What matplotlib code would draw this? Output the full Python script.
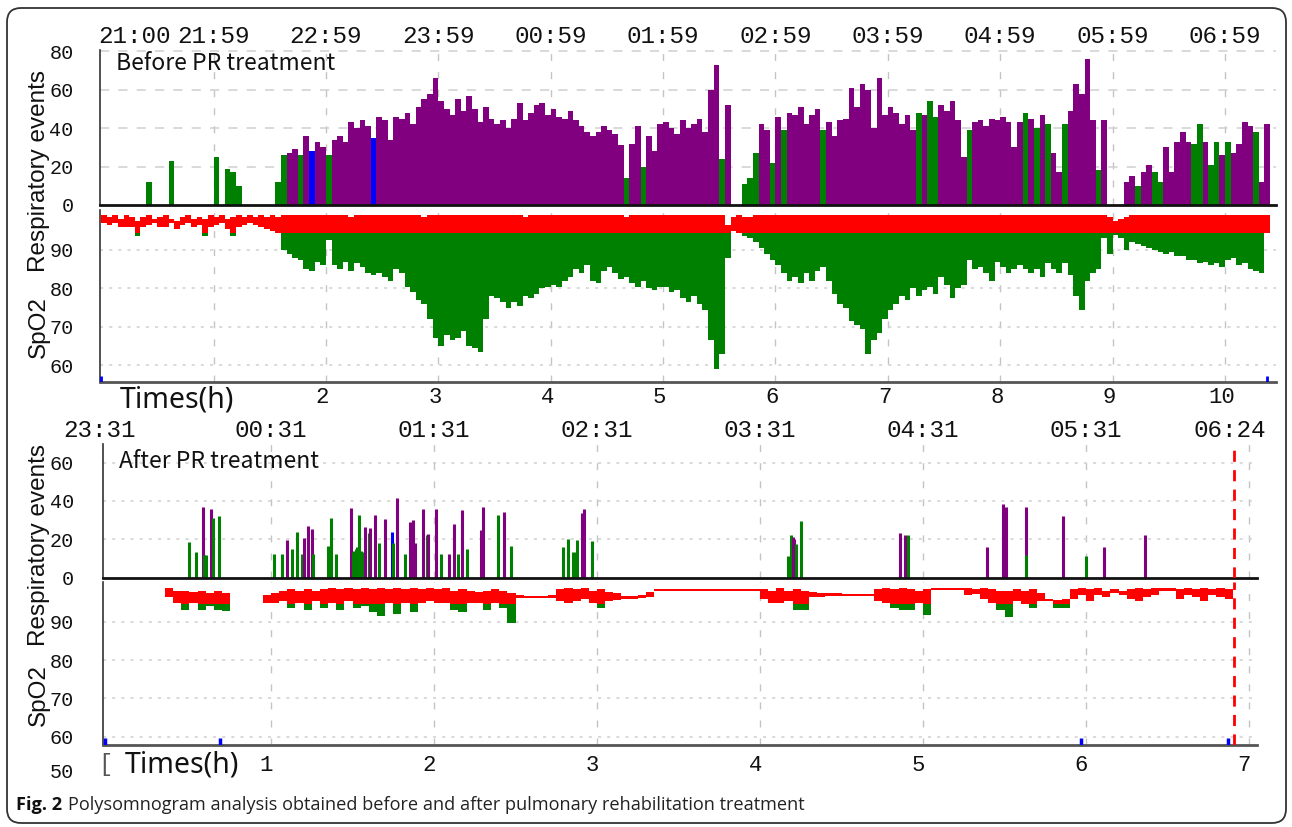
import numpy as np
import matplotlib
matplotlib.use("Agg")
import matplotlib.pyplot as plt
from matplotlib.patches import FancyBboxPatch
from matplotlib.transforms import IdentityTransform

nan = np.nan
W, H = 1292, 827

# ---------------- before PR treatment (top) ----------------
bin_before = 0.05  # hours per bar

# respiratory events per bin
events_before = [
    0, 0, 0, 0, 0, 0, 0, 0, 12, 0,
    0, 0, 23, 0, 0, 0, 0, 0, 0, 0,
    25, 0, 19, 17, 10, 0, 0, 0, 0, 0,
    0, 12, 26, 27, 29, 26, 36, 28, 33, 30,
    26, 34, 36, 33, 43, 40, 44, 41, 35, 46,
    44, 34, 46, 45, 48, 42, 51, 55, 58, 66,
    54, 50, 47, 55, 49, 57, 50, 43, 51, 45,
    42, 44, 40, 45, 53, 44, 48, 52, 53, 47,
    50, 46, 45, 49, 44, 41, 38, 36, 38, 41,
    39, 37, 31, 14, 32, 41, 20, 36, 28, 42,
    43, 40, 37, 44, 40, 42, 45, 38, 60, 73,
    24, 52, 0, 0, 11, 14, 27, 42, 39, 22,
    46, 39, 48, 47, 51, 42, 47, 50, 39, 43,
    36, 44, 45, 61, 51, 63, 60, 40, 66, 47,
    51, 48, 42, 47, 39, 48, 47, 54, 46, 52,
    49, 54, 44, 25, 39, 43, 44, 41, 45, 44,
    46, 43, 30, 43, 48, 45, 40, 47, 42, 27,
    17, 42, 49, 63, 58, 76, 44, 18, 44, 0,
    0, 0, 12, 15, 10, 17, 21, 17, 12, 30,
    17, 33, 38, 33, 32, 42, 33, 21, 33, 26,
    33, 27, 32, 43, 41, 38, 12, 42,
]
# g = hypopnea (green), p = apnea (purple), b = blue, . = nothing
types_before = (
    "........g." "..g......." "g.ggg....." ".ggppgpbpp" "gpppppppbp"
    "pppppppppp" "pppppppppp" "pppppppppp" "pppppppppp" "pppgppgppp"
    "pppppppppp" "gp..gggppg" "pgppppppgp" "pppppppppp" "pppppgpggp"
    "ppppgppppp" "ppppgpgpgp" "pgpppppgp." "..ppgppggp" "ppppggpggp"
    "gppppgpp"
)
spo2_max_before = [
    99, 98.5, 99, 98, 99, 98.5, 97.5, 98.5, 99, 98,
    98.5, 99, 98, 97.5, 98.5, 99, 98, 98.5, 98, 99,
    98.5, 99, 98, 98.5, 99, 98.5, 99, 98.5, 99, 98.5,
    99, 98.5, 99, 99, 99, 99, 99, 99, 99, 99,
    99, 99, 99, 99, 98.5, 99, 99, 99, 99, 99,
    99, 99, 99, 99, 99, 99, 99, 98.5, 99, 99,
    99, 99, 99, 99, 99, 99, 99, 99, 99, 99,
    99, 99, 99, 99, 99, 98.5, 99, 99, 99, 99,
    99, 99, 99, 99, 99, 99, 99, 99, 99, 99,
    99, 99, 99, 98.5, 99, 99, 99, 99, 99, 99,
    99, 99, 99, 99, 99, 99, 99, 99, 99, 99,
    99, 96.5, 98.5, 99, 98.5, 98.5, 99, 99, 99, 99,
    99, 99, 99, 99, 99, 99, 99, 99, 99, 99,
    99, 99, 99, 99, 99, 99, 99, 99, 99, 99,
    99, 99, 99, 99, 99, 99, 99, 99, 99, 99,
    99, 99, 99, 99, 99, 99, 99, 99, 99, 99,
    99, 99, 99, 99, 99, 99, 99, 99, 99, 99,
    99, 99, 99, 99, 99, 99, 99, 99, 99, 98.5,
    97.5, 98, 98.5, 99, 99, 99, 99, 99, 99, 99,
    99, 99, 99, 99, 99, 99, 99, 99, 99, 99,
    99, 99, 99, 99, 99, 99, 99, 99,
]
spo2_min_before = [
    97, 96.5, 97, 96, 96, 96, 93.5, 96, 96.5, 97,
    96, 96, 97, 95.5, 96.5, 97, 96, 96.5, 93.5, 96,
    96.5, 97, 95.5, 93.5, 96, 96.5, 97, 96.5, 96, 95.5,
    95, 94.5, 90, 89, 88, 87.5, 85, 84.5, 87, 86,
    92.5, 86, 85, 87, 84.5, 86.5, 85.5, 84, 83.5, 84,
    83, 82, 85, 84, 80.5, 79, 77, 76, 72, 67,
    65, 68, 66.5, 67, 69, 65, 64.5, 63.5, 72, 78,
    77.5, 76.5, 75, 76.5, 75.5, 78, 77.5, 78.5, 80, 80.5,
    81, 80.5, 82, 83, 85, 84, 86, 82, 81.5, 84.5,
    85.5, 84, 82.5, 83, 81.5, 80.5, 82, 80, 79.5, 80.5,
    80.5, 79, 79.5, 77.5, 76.5, 78, 76, 74.5, 66.5, 59,
    63, 88, 95, 94.5, 93.5, 93, 92, 90.5, 89, 87.5,
    86, 84, 82, 83, 81.5, 84, 82, 84.5, 85.5, 82,
    78.5, 76, 75, 71.5, 70.5, 69.5, 63, 66.5, 68.5, 72,
    74.5, 76, 78, 77, 80, 78, 79.5, 80.5, 78.5, 83,
    81, 77.5, 80, 81, 87.5, 85, 85.5, 84, 82, 87,
    85.5, 84, 85, 86, 85, 84, 85, 83, 86.5, 85,
    84, 86.5, 83.5, 78, 74.5, 82, 84, 85, 93, 89,
    94, 93, 90, 92, 91.5, 91, 90.5, 90, 89.5, 89,
    89.5, 88.5, 88.5, 87.5, 87.5, 86.5, 87, 86, 86.5, 85.5,
    87.5, 88, 86, 86.5, 85, 84.5, 84, 94.5,
]
clock_before = ["21:00", "21:59", "22:59", "23:59", "00:59", "01:59",
                "02:59", "03:59", "04:59", "05:59", "06:59"]
clock_before_pos = [0.3, 1, 2, 3, 4, 5, 6, 7, 8, 9, 10]
hours_before = [2, 3, 4, 5, 6, 7, 8, 9, 10]
blue_before = [0.0, 10.37]

# ---------------- after PR treatment (bottom) ----------------
bin_after = 0.05
# single events: time (h), height, type
ev_t_after = [0.495, 0.537, 0.583, 0.590, 0.604, 0.634, 0.647, 0.680,
              1.016, 1.067, 1.100, 1.130, 1.160, 1.190, 1.200, 1.230, 1.250, 1.260,
              1.350, 1.370, 1.400, 1.490, 1.500, 1.510, 1.520, 1.530, 1.540, 1.550,
              1.560, 1.576, 1.600, 1.610, 1.640, 1.660, 1.700, 1.740, 1.750, 1.770,
              1.820, 1.855, 1.870, 1.885, 1.930, 1.955, 1.965, 2.010, 2.040, 2.090,
              2.120, 2.150, 2.170, 2.200, 2.290, 2.300, 2.390, 2.430, 2.470,
              2.790, 2.820, 2.850, 2.870, 2.880, 2.910, 2.920, 2.970,
              4.170, 4.190, 4.200, 4.210, 4.220, 4.250,
              4.860, 4.890, 4.910, 5.390, 5.490, 5.510, 5.630, 5.630,
              5.860, 6.000, 6.110, 6.360]
ev_v_after = [18.7, 13.5, 37, 12, 12, 36, 31, 32,
              12.5, 12.5, 19.5, 15, 24, 12.5, 20.5, 27, 25.5, 12.5,
              16.5, 31, 12.5, 36.5, 13.5, 14, 15, 16, 32.5, 14,
              13.5, 26.5, 23, 26, 32.5, 18, 30.5, 24, 18, 41.5,
              12.5, 29, 30, 18, 36, 22, 22.5, 36, 12.5, 12.5,
              28, 12.5, 35.5, 15, 25, 37, 32.5, 34, 16.5,
              16, 20, 13.5, 13.5, 19.5, 33.5, 36, 19,
              11, 22, 21, 20, 17.5, 29.5,
              23.5, 22, 22, 16, 38.5, 37, 37, 12,
              32, 11, 16, 22]
ev_c_after = ("ggpggpgg" "ggpgggpppg" "gggpgggggg" "gpgppgpbgp" "gppppgppgp"
              "pgpgppgpg" "gggggppg" "ggppgg" "ppgppppg" "pgpp")

spo2_max_after = [
    nan, nan, nan, nan, nan, nan, nan, 98.7, 98, 98,
    97.8, 98, 97.5, 98, 97.5, nan, nan, nan, nan, 97,
    97.5, 98, 98.5, 98, 98.5, 98, 98.5, 98.7, 98.5, 98.7,
    98.5, 98.7, 98.5, 98.7, 98.5, 98.7, 98.5, 98.7, 98.5, 98.7,
    98.5, 98.7, 98, 98.5, 98, 97.8, 98, 98.5, 98, 97.5,
    97, 96.8, 96.8, 96.7, 97, 98.5, 98.7, 98.5, 98.7, 98,
    98.5, 97.8, 97.5, 96.8, 96.8, 97, 97.8, 98.5, 98.6, 98.6,
    98.6, 98.6, 98.6, 98.6, 98.6, 98.6, 98.6, 98.6, 98.6, 98.6,
    98.6, 98, 98.7, 98, 98.5, 98, 97.8, 97.5, 97.5, 97.5,
    97.3, 97.2, 97.2, 97.2, 98.5, 98.7, 98.5, 98.7, 98.5, 98,
    98.5, 98.7, 98.7, 98.7, 98.7, 98.7, 98.5, 98.7, 98.5, 98,
    98, 98.5, 98, 98.5, 97.5, 96, 95.8, 96, 98.5, 98.7,
    98.5, 98.7, 98, 98.5, 98, 98.5, 98.7, 98.5, 98.7, 98.8,
    98.8, 98.5, 98.7, 98.5, 98.7, 98.5, 98.7, 98.5,
]
spo2_min_after = [
    nan, nan, nan, nan, nan, nan, nan, 96.5, 95, 93,
    94.8, 93, 94, 93, 92.8, nan, nan, nan, nan, 94.8,
    94.8, 95.5, 93.5, 95, 93, 95.5, 93.5, 94.8, 93, 95.5,
    93.5, 94, 92.5, 91.5, 94.8, 92, 95, 92.5, 95, 95.5,
    94.8, 95, 93, 92.5, 94.8, 95, 93, 94.8, 93.5, 89.7,
    96.3, 96.3, 96.2, 96.2, 96.3, 95.5, 95, 95.5, 96, 95,
    93.5, 95.5, 95.8, 96, 96, 96.3, 96.5, 98, 98.1, 98.1,
    98.1, 98.1, 98.1, 98.1, 98.1, 98.1, 98.1, 98.1, 98.1, 98.1,
    96, 94.8, 94.8, 95.5, 93, 93, 96.5, 96.5, 96.8, 96.8,
    96.8, 96.7, 96.7, 96.7, 95.5, 95, 93.5, 93, 93, 95,
    91.7, 98.2, 98.2, 98.2, 98.2, 97, 97.2, 96, 95, 93,
    91.3, 95.5, 94.5, 93.5, 95.3, 95.5, 93.5, 93.5, 96, 97,
    95.5, 97, 96.5, 97.5, 97, 96, 95.5, 96.5, 97, 98,
    98, 96, 97, 96.5, 95.5, 97, 96.5, 96,
]
clock_after = ["23:31", "00:31", "01:31", "02:31", "03:31", "04:31", "05:31", "06:24"]
clock_after_pos = [-0.05, 1, 2, 3, 4, 5, 6, 6.88]
hours_after = [1, 2, 3, 4, 5, 6, 7]
blue_after = [-0.02, 0.69, 5.97, 6.87]
end_after = 6.907  # red dashed end-of-record line

COL = {"p": "#800080", "g": "#008000", "b": "#0000ff", ".": "#ffffff"}
RED, GREEN = "#ff0000", "#008000"
THR = 94.5  # SpO2 above this drawn red, below green
MONO = "Liberation Mono"

fig = plt.figure(figsize=(W / 100, H / 100), dpi=100)


def add_ax(x0, y0, x1, y1):  # pixel box -> axes
    return fig.add_axes([x0 / W, 1 - y1 / H, (x1 - x0) / W, (y1 - y0) / H])


def style(ax, xlim, ylim, yticks, grid_hours, hgrid, hls, bottom_col, pad):
    ax.set_xlim(xlim)
    ax.set_ylim(ylim)
    ax.set_xticks([])
    ax.set_yticks(yticks)
    ax.set_yticklabels([str(v) for v in yticks], family=MONO, fontsize=14.5, color="#111")
    ax.tick_params(axis="y", length=0, pad=pad)
    for s in ("top", "right"):
        ax.spines[s].set_visible(False)
    ax.spines["left"].set_color("#333")
    ax.spines["left"].set_linewidth(1.2)
    ax.spines["bottom"].set_color(bottom_col)
    ax.spines["bottom"].set_linewidth(2)
    for h in grid_hours:
        ax.axvline(h, color="#c4c4c4", lw=1, ls=(0, (5, 8)), zorder=0)
    for v in hgrid:
        ax.axhline(v, color="#cfcfcf", lw=1.1, ls=hls, zorder=0)


def spo2_bars(ax, w, hi, lo):
    hi = np.asarray(hi, float)
    lo = np.asarray(lo, float)
    t = np.arange(len(hi)) * w
    ok = ~np.isnan(hi)
    red_lo = np.minimum(np.maximum(lo, THR), hi)
    ax.bar(t[ok], (hi - red_lo)[ok], bottom=red_lo[ok], width=w, align="edge",
           color=RED, lw=0, zorder=2)
    g = ok & (lo < THR)
    g_top = np.minimum(hi, THR)
    ax.bar(t[g], (g_top - lo)[g], bottom=lo[g], width=w, align="edge",
           color=GREEN, lw=0, zorder=2)


# ---- top panel ----
ax1 = add_ax(100, 50.4, 1275.6, 205)
ax2 = add_ax(100, 210.3, 1275.6, 382)
xl_b = (-0.01, 10.45)
style(ax1, xl_b, (0, 80.5), [0, 20, 40, 60, 80], range(1, 11), [20, 40, 60, 80],
      (0, (6, 6)), "#111", 19)
style(ax2, xl_b, (55.7, 100.3), [60, 70, 80, 90], range(1, 11), [60, 70, 80, 90],
      (0, (2, 4)), "#555", 19)

ev = np.array(events_before, float)
tb = np.arange(len(ev)) * bin_before
ax1.bar(tb, ev, width=bin_before, align="edge",
        color=[COL[c] for c in types_before], lw=0, zorder=2)
spo2_bars(ax2, bin_before, spo2_max_before, spo2_min_before)
ax2.vlines(blue_before, 55.7, 57.3, colors="#0000ff", lw=2, zorder=3)

for lab, h in zip(clock_before, clock_before_pos):
    ax1.text(h, 1.087, lab, transform=ax1.get_xaxis_transform(), ha="center",
             va="center", family=MONO, fontsize=17.5, color="#111")
for h in hours_before:
    ax2.text(h - 0.03, -0.09, str(h), transform=ax2.get_xaxis_transform(), ha="center",
             va="center", family=MONO, fontsize=16, color="#111")
ax2.text(0.17, -0.105, "Times(h)", transform=ax2.get_xaxis_transform(), ha="left",
         va="center", family="Noto Sans", fontsize=20.5, color="#111")
ax1.text(0.13, 73.5, "Before PR treatment", ha="left", va="center",
         family=["Noto Sans CJK SC", "Noto Sans"], fontsize=16.5,
         fontweight="medium", color="#111")

# ---- bottom panel ----
ax3 = add_ax(103.1, 443.5, 1257.2, 577.5)
ax4 = add_ax(103.1, 581.9, 1257.2, 745)
xl_a = (-0.03, 7.05)
style(ax3, xl_a, (0, 70), [0, 20, 40, 60], hours_after, [20, 40, 60],
      (0, (2, 4)), "#111", 21)
style(ax4, xl_a, (57.8, 100.4), [60, 70, 80, 90], hours_after, [60, 70, 80, 90],
      (0, (2, 4)), "#555", 21)

ax3.vlines(ev_t_after, 0, ev_v_after, colors=[COL[c] for c in ev_c_after],
           lw=2.2, zorder=2)
spo2_bars(ax4, bin_after, spo2_max_after, spo2_min_after)
ax4.vlines(blue_after, 57.8, 59.6, colors="#0000ff", lw=2.5, zorder=3)
for ax in (ax3, ax4):
    ax.axvline(end_after, color="#ff0000", lw=2, ls=(0, (4, 3)), zorder=4)

for lab, h in zip(clock_after, clock_after_pos):
    ax3.text(h, 1.10, lab, transform=ax3.get_xaxis_transform(), ha="center",
             va="center", family=MONO, fontsize=17.5, color="#111")
for h in hours_after:
    ax4.text(h - 0.03, -0.123, str(h), transform=ax4.get_xaxis_transform(), ha="center",
             va="center", family=MONO, fontsize=16, color="#111")
ax4.text(0.10, -0.123, "Times(h)", transform=ax4.get_xaxis_transform(), ha="left",
         va="center", family="Noto Sans", fontsize=20.5, color="#111")
ax3.text(0.07, 60.5, "After PR treatment", ha="left", va="center",
         family=["Noto Sans CJK SC", "Noto Sans"], fontsize=16.5,
         fontweight="medium", color="#111")

# odd leftovers of the original software
fig.text(74 / W, 1 - 773 / H, "50", ha="right", va="center", family=MONO,
         fontsize=14.5, color="#111")
fig.text(105 / W, 1 - 765 / H, "[", ha="center", va="center", family=MONO,
         fontsize=17, color="#555")

# y labels
for ys, yr in ((327.5, 170.5), (695, 544.5)):
    fig.text(39 / W, 1 - ys / H, "SpO2", rotation=90, ha="center", va="center",
             family="Liberation Sans", fontsize=17.5, color="#111")
    fig.text(39 / W, 1 - yr / H, "Respiratory events", rotation=90, ha="center",
             va="center", family="Liberation Sans", fontsize=17.5, color="#111")

# caption, bold part first then the rest right after it
cap = fig.text(16 / W, 1 - 805 / H, "Fig. 2", ha="left", va="center", family="Open Sans",
               fontsize=13.1, fontweight="bold", color="#111")
bb = cap.get_window_extent(fig.canvas.get_renderer())
fig.text((bb.x1 + 6) / W, 1 - 805 / H,
         "Polysomnogram analysis obtained before and after pulmonary rehabilitation treatment",
         ha="left", va="center", family="Open Sans", fontsize=13.1, color="#222")

# rounded frame round everything
frame = FancyBboxPatch((7, H - 823), 1279, 815, boxstyle="round,pad=0,rounding_size=14",
                       transform=IdentityTransform(), fill=False, edgecolor="#333",
                       lw=1.3)
fig.patches.append(frame)

fig.savefig("out.png", dpi=100)
